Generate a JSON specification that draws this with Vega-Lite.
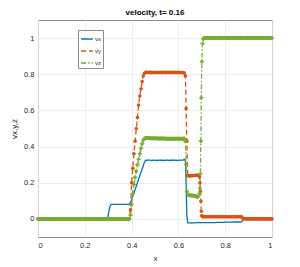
{
  "$schema": "https://vega.github.io/schema/vega-lite/v6.json",
  "width": 234,
  "height": 217,
  "autosize": "none",
  "padding": {"left": 38, "top": 20, "right": 28, "bottom": 30},
  "background": "white",
  "title": {"text": "velocity, t= 0.16", "fontSize": 8, "font": "Liberation Sans", "fontWeight": "bold", "color": "#000000", "offset": 3, "anchor": "middle"},
  "config": {
    "view": {"stroke": "#8a8a8a", "strokeWidth": 1},
    "axis": {"labelFont": "Liberation Sans", "labelFontSize": 7.5, "labelColor": "#262626", "titleFont": "Liberation Sans", "titleFontSize": 8, "titleFontWeight": "normal", "titleColor": "#262626", "gridColor": "#e8e8e8", "gridWidth": 0.8, "domain": false, "ticks": false, "labelPadding": 4}
  },
  "data": {"values": [
    {"x":0,"vx":0,"vy":0,"vz":0},{"x":0.005,"vx":0,"vy":0,"vz":0},{"x":0.01,"vx":0,"vy":0,"vz":0},{"x":0.015,"vx":0,"vy":0,"vz":0},{"x":0.02,"vx":0,"vy":0,"vz":0},{"x":0.025,"vx":0,"vy":0,"vz":0},{"x":0.03,"vx":0,"vy":0,"vz":0},{"x":0.035,"vx":0,"vy":0,"vz":0},{"x":0.04,"vx":0,"vy":0,"vz":0},{"x":0.045,"vx":0,"vy":0,"vz":0},
    {"x":0.05,"vx":0,"vy":0,"vz":0},{"x":0.055,"vx":0,"vy":0,"vz":0},{"x":0.06,"vx":0,"vy":0,"vz":0},{"x":0.065,"vx":0,"vy":0,"vz":0},{"x":0.07,"vx":0,"vy":0,"vz":0},{"x":0.075,"vx":0,"vy":0,"vz":0},{"x":0.08,"vx":0,"vy":0,"vz":0},{"x":0.085,"vx":0,"vy":0,"vz":0},{"x":0.09,"vx":0,"vy":0,"vz":0},{"x":0.095,"vx":0,"vy":0,"vz":0},
    {"x":0.1,"vx":0,"vy":0,"vz":0},{"x":0.105,"vx":0,"vy":0,"vz":0},{"x":0.11,"vx":0,"vy":0,"vz":0},{"x":0.115,"vx":0,"vy":0,"vz":0},{"x":0.12,"vx":0,"vy":0,"vz":0},{"x":0.125,"vx":0,"vy":0,"vz":0},{"x":0.13,"vx":0,"vy":0,"vz":0},{"x":0.135,"vx":0,"vy":0,"vz":0},{"x":0.14,"vx":0,"vy":0,"vz":0},{"x":0.145,"vx":0,"vy":0,"vz":0},
    {"x":0.15,"vx":0,"vy":0,"vz":0},{"x":0.155,"vx":0,"vy":0,"vz":0},{"x":0.16,"vx":0,"vy":0,"vz":0},{"x":0.165,"vx":0,"vy":0,"vz":0},{"x":0.17,"vx":0,"vy":0,"vz":0},{"x":0.175,"vx":0,"vy":0,"vz":0},{"x":0.18,"vx":0,"vy":0,"vz":0},{"x":0.185,"vx":0,"vy":0,"vz":0},{"x":0.19,"vx":0,"vy":0,"vz":0},{"x":0.195,"vx":0,"vy":0,"vz":0},
    {"x":0.2,"vx":0,"vy":0,"vz":0},{"x":0.205,"vx":0,"vy":0,"vz":0},{"x":0.21,"vx":0,"vy":0,"vz":0},{"x":0.215,"vx":0,"vy":0,"vz":0},{"x":0.22,"vx":0,"vy":0,"vz":0},{"x":0.225,"vx":0,"vy":0,"vz":0},{"x":0.23,"vx":0,"vy":0,"vz":0},{"x":0.235,"vx":0,"vy":0,"vz":0},{"x":0.24,"vx":0,"vy":0,"vz":0},{"x":0.245,"vx":0,"vy":0,"vz":0},
    {"x":0.25,"vx":0,"vy":0,"vz":0},{"x":0.255,"vx":0,"vy":0,"vz":0},{"x":0.26,"vx":0,"vy":0,"vz":0},{"x":0.265,"vx":0,"vy":0,"vz":0},{"x":0.27,"vx":0,"vy":0,"vz":0},{"x":0.275,"vx":0,"vy":0,"vz":0},{"x":0.28,"vx":0,"vy":0,"vz":0},{"x":0.285,"vx":0,"vy":0,"vz":0},{"x":0.29,"vx":0,"vy":0,"vz":0},{"x":0.295,"vx":0,"vy":0,"vz":0},
    {"x":0.3,"vx":0.02,"vy":0,"vz":0},{"x":0.305,"vx":0.055,"vy":0,"vz":0},{"x":0.31,"vx":0.078,"vy":0,"vz":0},{"x":0.315,"vx":0.08,"vy":0,"vz":0},{"x":0.32,"vx":0.08,"vy":0,"vz":0},{"x":0.325,"vx":0.08,"vy":0,"vz":0},{"x":0.33,"vx":0.08,"vy":0,"vz":0},{"x":0.335,"vx":0.08,"vy":0,"vz":0},{"x":0.34,"vx":0.08,"vy":0,"vz":0},{"x":0.345,"vx":0.08,"vy":0,"vz":0},
    {"x":0.35,"vx":0.08,"vy":0,"vz":0},{"x":0.355,"vx":0.08,"vy":0,"vz":0},{"x":0.36,"vx":0.08,"vy":0,"vz":0},{"x":0.365,"vx":0.08,"vy":0,"vz":0},{"x":0.37,"vx":0.08,"vy":0,"vz":0},{"x":0.375,"vx":0.08,"vy":0,"vz":0},{"x":0.38,"vx":0.08,"vy":0,"vz":0},{"x":0.385,"vx":0.08,"vy":0,"vz":0},{"x":0.39,"vx":0.08,"vy":0,"vz":0},{"x":0.395,"vx":0.09,"vy":0.05,"vz":0.02},
    {"x":0.4,"vx":0.105,"vy":0.2,"vz":0.08},{"x":0.405,"vx":0.124,"vy":0.28,"vz":0.14},{"x":0.41,"vx":0.143,"vy":0.36,"vz":0.19},{"x":0.415,"vx":0.162,"vy":0.43,"vz":0.23},{"x":0.42,"vx":0.181,"vy":0.5,"vz":0.265},{"x":0.425,"vx":0.2,"vy":0.56,"vz":0.3},{"x":0.43,"vx":0.22,"vy":0.63,"vz":0.33},{"x":0.435,"vx":0.238,"vy":0.68,"vz":0.36},{"x":0.44,"vx":0.257,"vy":0.72,"vz":0.39},{"x":0.445,"vx":0.276,"vy":0.76,"vz":0.415},
    {"x":0.45,"vx":0.295,"vy":0.79,"vz":0.435},{"x":0.455,"vx":0.314,"vy":0.805,"vz":0.445},{"x":0.46,"vx":0.325,"vy":0.81,"vz":0.447},{"x":0.465,"vx":0.324,"vy":0.812,"vz":0.447},{"x":0.47,"vx":0.326,"vy":0.808,"vz":0.447},{"x":0.475,"vx":0.324,"vy":0.81,"vz":0.447},{"x":0.48,"vx":0.325,"vy":0.812,"vz":0.446},{"x":0.485,"vx":0.323,"vy":0.809,"vz":0.446},{"x":0.49,"vx":0.325,"vy":0.81,"vz":0.446},{"x":0.495,"vx":0.324,"vy":0.811,"vz":0.446},
    {"x":0.5,"vx":0.325,"vy":0.809,"vz":0.446},{"x":0.505,"vx":0.323,"vy":0.81,"vz":0.446},{"x":0.51,"vx":0.325,"vy":0.811,"vz":0.445},{"x":0.515,"vx":0.324,"vy":0.809,"vz":0.445},{"x":0.52,"vx":0.326,"vy":0.81,"vz":0.445},{"x":0.525,"vx":0.324,"vy":0.811,"vz":0.445},{"x":0.53,"vx":0.325,"vy":0.809,"vz":0.445},{"x":0.535,"vx":0.323,"vy":0.81,"vz":0.445},{"x":0.54,"vx":0.325,"vy":0.811,"vz":0.445},{"x":0.545,"vx":0.324,"vy":0.809,"vz":0.444},
    {"x":0.55,"vx":0.326,"vy":0.81,"vz":0.444},{"x":0.555,"vx":0.324,"vy":0.811,"vz":0.444},{"x":0.56,"vx":0.325,"vy":0.809,"vz":0.444},{"x":0.565,"vx":0.323,"vy":0.81,"vz":0.444},{"x":0.57,"vx":0.325,"vy":0.811,"vz":0.444},{"x":0.575,"vx":0.324,"vy":0.809,"vz":0.444},{"x":0.58,"vx":0.326,"vy":0.81,"vz":0.443},{"x":0.585,"vx":0.324,"vy":0.811,"vz":0.443},{"x":0.59,"vx":0.325,"vy":0.809,"vz":0.443},{"x":0.595,"vx":0.323,"vy":0.81,"vz":0.443},
    {"x":0.6,"vx":0.325,"vy":0.811,"vz":0.443},{"x":0.605,"vx":0.324,"vy":0.809,"vz":0.443},{"x":0.61,"vx":0.326,"vy":0.81,"vz":0.443},{"x":0.615,"vx":0.324,"vy":0.81,"vz":0.443},{"x":0.62,"vx":0.325,"vy":0.809,"vz":0.443},{"x":0.625,"vx":0.33,"vy":0.806,"vz":0.445},{"x":0.63,"vx":0.32,"vy":0.79,"vz":0.43},{"x":0.633,"vx":0.2,"vy":0.61,"vz":0.3},{"x":0.636,"vx":0.02,"vy":0.43,"vz":0.15},{"x":0.64,"vx":-0.022,"vy":0.24,"vz":0.135},
    {"x":0.645,"vx":-0.022,"vy":0.238,"vz":0.132},{"x":0.65,"vx":-0.022,"vy":0.238,"vz":0.13},{"x":0.655,"vx":-0.022,"vy":0.239,"vz":0.13},{"x":0.66,"vx":-0.022,"vy":0.239,"vz":0.129},{"x":0.665,"vx":-0.022,"vy":0.24,"vz":0.128},{"x":0.67,"vx":-0.022,"vy":0.24,"vz":0.127},{"x":0.675,"vx":-0.021,"vy":0.241,"vz":0.125},{"x":0.68,"vx":-0.021,"vy":0.242,"vz":0.121},{"x":0.685,"vx":-0.021,"vy":0.24,"vz":0.124},{"x":0.69,"vx":-0.021,"vy":0.232,"vz":0.14},
    {"x":0.692,"vx":-0.021,"vy":0.2,"vz":0.17},{"x":0.694,"vx":-0.021,"vy":0.153,"vz":0.25},{"x":0.696,"vx":-0.021,"vy":0.098,"vz":0.43},{"x":0.698,"vx":-0.021,"vy":0.042,"vz":0.67},{"x":0.7,"vx":-0.021,"vy":0.018,"vz":0.87},{"x":0.703,"vx":-0.021,"vy":0.013,"vz":0.97},{"x":0.706,"vx":-0.021,"vy":0.012,"vz":0.995},{"x":0.71,"vx":-0.021,"vy":0.012,"vz":1},{"x":0.715,"vx":-0.021,"vy":0.012,"vz":1},{"x":0.72,"vx":-0.021,"vy":0.012,"vz":1},
    {"x":0.725,"vx":-0.021,"vy":0.012,"vz":1},{"x":0.73,"vx":-0.02,"vy":0.012,"vz":1},{"x":0.735,"vx":-0.02,"vy":0.012,"vz":1},{"x":0.74,"vx":-0.02,"vy":0.012,"vz":1},{"x":0.745,"vx":-0.02,"vy":0.012,"vz":1},{"x":0.75,"vx":-0.02,"vy":0.012,"vz":1},{"x":0.755,"vx":-0.02,"vy":0.012,"vz":1},{"x":0.76,"vx":-0.02,"vy":0.012,"vz":1},{"x":0.765,"vx":-0.019,"vy":0.012,"vz":1},{"x":0.77,"vx":-0.019,"vy":0.012,"vz":1},
    {"x":0.775,"vx":-0.019,"vy":0.012,"vz":1},{"x":0.78,"vx":-0.019,"vy":0.012,"vz":1},{"x":0.785,"vx":-0.019,"vy":0.012,"vz":1},{"x":0.79,"vx":-0.019,"vy":0.012,"vz":1},{"x":0.795,"vx":-0.019,"vy":0.012,"vz":1},{"x":0.8,"vx":-0.018,"vy":0.012,"vz":1},{"x":0.805,"vx":-0.018,"vy":0.012,"vz":1},{"x":0.81,"vx":-0.018,"vy":0.012,"vz":1},{"x":0.815,"vx":-0.018,"vy":0.012,"vz":1},{"x":0.82,"vx":-0.018,"vy":0.012,"vz":1},
    {"x":0.825,"vx":-0.018,"vy":0.012,"vz":1},{"x":0.83,"vx":-0.018,"vy":0.012,"vz":1},{"x":0.835,"vx":-0.017,"vy":0.012,"vz":1},{"x":0.84,"vx":-0.017,"vy":0.012,"vz":1},{"x":0.845,"vx":-0.017,"vy":0.012,"vz":1},{"x":0.85,"vx":-0.017,"vy":0.012,"vz":1},{"x":0.855,"vx":-0.017,"vy":0.012,"vz":1},{"x":0.86,"vx":-0.017,"vy":0.012,"vz":1},{"x":0.865,"vx":-0.017,"vy":0.012,"vz":1},{"x":0.87,"vx":-0.016,"vy":0.011,"vz":1},
    {"x":0.875,"vx":-0.008,"vy":0.005,"vz":1},{"x":0.88,"vx":0,"vy":0,"vz":1},{"x":0.885,"vx":0,"vy":0,"vz":1},{"x":0.89,"vx":0,"vy":0,"vz":1},{"x":0.895,"vx":0,"vy":0,"vz":1},{"x":0.9,"vx":0,"vy":0,"vz":1},{"x":0.905,"vx":0,"vy":0,"vz":1},{"x":0.91,"vx":0,"vy":0,"vz":1},{"x":0.915,"vx":0,"vy":0,"vz":1},{"x":0.92,"vx":0,"vy":0,"vz":1},
    {"x":0.925,"vx":0,"vy":0,"vz":1},{"x":0.93,"vx":0,"vy":0,"vz":1},{"x":0.935,"vx":0,"vy":0,"vz":1},{"x":0.94,"vx":0,"vy":0,"vz":1},{"x":0.945,"vx":0,"vy":0,"vz":1},{"x":0.95,"vx":0,"vy":0,"vz":1},{"x":0.955,"vx":0,"vy":0,"vz":1},{"x":0.96,"vx":0,"vy":0,"vz":1},{"x":0.965,"vx":0,"vy":0,"vz":1},{"x":0.97,"vx":0,"vy":0,"vz":1},
    {"x":0.975,"vx":0,"vy":0,"vz":1},{"x":0.98,"vx":0,"vy":0,"vz":1},{"x":0.985,"vx":0,"vy":0,"vz":1},{"x":0.99,"vx":0,"vy":0,"vz":1},{"x":0.995,"vx":0,"vy":0,"vz":1},{"x":1,"vx":0,"vy":0,"vz":1}
  ]},
  "layer": [
    {
      "transform": [{"fold": ["vx", "vy", "vz"], "as": ["series", "v"]}],
      "mark": {"type": "line", "strokeWidth": 1.3, "clip": true},
      "encoding": {
        "x": {"field": "x", "type": "quantitative", "scale": {"domain": [0, 1], "nice": false}, "axis": {"values": [0, 0.2, 0.4, 0.6, 0.8, 1], "title": "x", "titlePadding": 6, "labelExpr": "datum.value == 0 ? '0' : datum.value == 1 ? '1' : format(datum.value, '.1f')"}},
        "y": {"field": "v", "type": "quantitative", "scale": {"domain": [-0.1, 1.1], "nice": false, "zero": false}, "axis": {"values": [0, 0.2, 0.4, 0.6, 0.8, 1], "title": "vx,y,z", "titlePadding": 5, "labelExpr": "datum.value == 0 ? '0' : datum.value == 1 ? '1' : format(datum.value, '.1f')"}},
        "color": {"field": "series", "type": "nominal", "scale": {"domain": ["vx", "vy", "vz"], "range": ["#0072BD", "#D95319", "#77AC30"]},
          "legend": {"title": null, "orient": "none", "legendX": 40, "legendY": 10, "fillColor": "white", "strokeColor": "#8a8a8a", "padding": 2, "symbolType": "stroke", "symbolSize": 140, "symbolStrokeWidth": 1.5, "labelFont": "Liberation Sans", "labelFontSize": 6, "labelColor": "#262626", "rowPadding": 2, "labelOffset": 1, "symbolOffset": 0}},
        "strokeDash": {"field": "series", "type": "nominal", "scale": {"domain": ["vx", "vy", "vz"], "range": [[1, 0], [5, 3], [5, 2, 1.5, 2]]}, "legend": null}
      }
    },
    {
      "mark": {"type": "point", "shape": "circle", "filled": true, "size": 13, "color": "#D95319", "opacity": 1},
      "encoding": {
        "x": {"field": "x", "type": "quantitative"},
        "y": {"field": "vy", "type": "quantitative"}
      }
    },
    {
      "mark": {"type": "point", "shape": "cross", "filled": true, "size": 16, "color": "#77AC30", "opacity": 1},
      "encoding": {
        "x": {"field": "x", "type": "quantitative"},
        "y": {"field": "vz", "type": "quantitative"}
      }
    }
  ]
}
